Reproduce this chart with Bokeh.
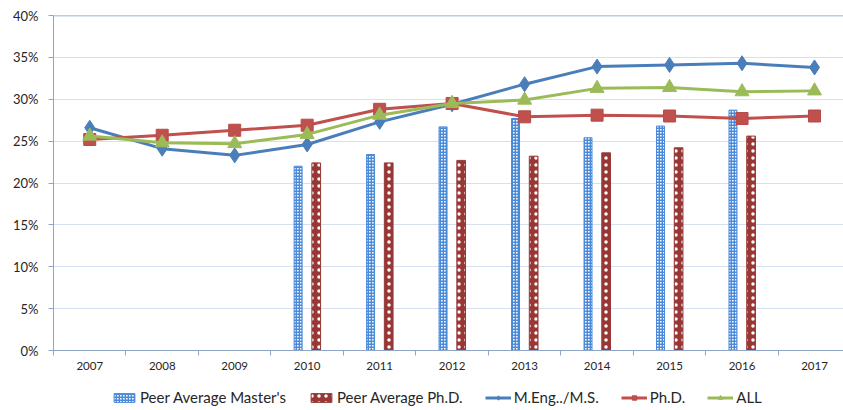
from bokeh.plotting import figure
from bokeh.layouts import column
from bokeh.models import Range1d, FixedTicker, NumeralTickFormatter, Legend, LegendItem, Span, ColumnDataSource
from bokeh.transform import dodge
from bokeh.embed import file_html
from bokeh.resources import INLINE

years = [2007, 2008, 2009, 2010, 2011, 2012, 2013, 2014, 2015, 2016, 2017]
meng_ms = [0.266, 0.241, 0.233, 0.246, 0.273, 0.294, 0.318, 0.339, 0.341, 0.343, 0.338]
phd = [0.252, 0.257, 0.263, 0.269, 0.288, 0.295, 0.279, 0.281, 0.280, 0.277, 0.280]
all_ = [0.256, 0.248, 0.247, 0.258, 0.281, 0.295, 0.299, 0.313, 0.314, 0.309, 0.310]

peer_years = [2010, 2011, 2012, 2013, 2014, 2015, 2016]
peer_masters = [0.220, 0.234, 0.267, 0.277, 0.254, 0.268, 0.287]
peer_phd = [0.224, 0.224, 0.227, 0.232, 0.236, 0.242, 0.256]

y_ticks = [0, 0.05, 0.10, 0.15, 0.20, 0.25, 0.30, 0.35, 0.40]

idx = list(range(len(years)))
peer_idx = [years.index(y) for y in peer_years]

FONT = "Lato"
AXIS_COLOR = "#8ea5c8"
TEXT_COLOR = "#262626"
BLUE = "#4a7ebb"
RED = "#c0504d"
GREEN = "#9bbb59"
BAR_BLUE = "#4a8ad8"
BAR_RED = "#983836"

p = figure(width=843, height=375, output_backend="svg", toolbar_location=None,
           x_range=Range1d(-0.5, 10.4), y_range=Range1d(0, 0.40),
           min_border_left=53, min_border_right=0, min_border_top=15, min_border_bottom=25)
p.outline_line_color = None
p.background_fill_color = "white"

# axes
p.xaxis.ticker = FixedTicker(ticks=idx, minor_ticks=[i - 0.5 for i in range(len(years) + 1)])
p.xaxis.major_label_overrides = {i: str(y) for i, y in zip(idx, years)}
p.xaxis.major_tick_line_color = None
p.xaxis.major_tick_out = 5
p.xaxis.minor_tick_out = 5
p.xaxis.minor_tick_in = 0
p.xaxis.minor_tick_line_color = AXIS_COLOR
p.xaxis.axis_line_color = AXIS_COLOR
p.xaxis.major_label_text_font = FONT
p.xaxis.major_label_text_font_size = "11.5px"
p.xaxis.major_label_text_color = TEXT_COLOR
p.xaxis.major_label_standoff = 6

p.yaxis.ticker = FixedTicker(ticks=y_ticks)
p.yaxis.formatter = NumeralTickFormatter(format="0%")
p.yaxis.major_tick_out = 5
p.yaxis.major_tick_in = 0
p.yaxis.minor_tick_line_color = None
p.yaxis.axis_line_color = AXIS_COLOR
p.yaxis.major_tick_line_color = AXIS_COLOR
p.yaxis.major_label_text_font = FONT
p.yaxis.major_label_text_font_size = "13px"
p.yaxis.major_label_text_color = TEXT_COLOR
p.yaxis.major_label_standoff = 10

p.xgrid.grid_line_color = None
p.ygrid.grid_line_color = "#d6e0ee"
p.ygrid.grid_line_width = 1

p.add_layout(Span(location=0.40, dimension="width", line_color="#6f9ad0", line_width=1.5))

bar_src = ColumnDataSource(dict(x=peer_idx, m=peer_masters, d=peer_phd))
line_src = ColumnDataSource(dict(x=idx, meng=meng_ms, phd=phd, all=all_))

bm_style = dict(fill_color="white", line_color=BAR_BLUE, line_width=1,
                hatch_pattern="+", hatch_color=BAR_BLUE, hatch_scale=3, hatch_weight=1.8)
bp_style = dict(fill_color=BAR_RED, line_color=BAR_RED, line_width=1,
                hatch_pattern="dot", hatch_color="white", hatch_scale=7, hatch_weight=2)


def draw(fig):
    rbm = fig.vbar(x=dodge("x", -0.125, range=fig.x_range), top="m", bottom=0, width=0.11,
                   source=bar_src, **bm_style)
    rbp = fig.vbar(x=dodge("x", 0.125, range=fig.x_range), top="d", bottom=0, width=0.12,
                   source=bar_src, **bp_style)
    a1 = fig.line("x", "meng", source=line_src, line_color=BLUE, line_width=3)
    b1 = fig.scatter("x", "meng", source=line_src, marker="diamond", size=15, fill_color=BLUE, line_color=BLUE)
    a2 = fig.line("x", "phd", source=line_src, line_color=RED, line_width=3)
    b2 = fig.scatter("x", "phd", source=line_src, marker="square", size=12, fill_color=RED, line_color="#b84a47")
    a3 = fig.line("x", "all", source=line_src, line_color=GREEN, line_width=3)
    b3 = fig.scatter("x", "all", source=line_src, marker="triangle", size=14, fill_color=GREEN, line_color=GREEN)
    return rbm, rbp, a1, b1, a2, b2, a3, b3


draw(p)

# legend strip below the chart (its own renderers lie outside its visible range)
lg = figure(width=843, height=35, output_backend="svg", toolbar_location=None,
            x_range=Range1d(100, 101), y_range=Range1d(100, 101), x_axis_type=None, y_axis_type=None,
            min_border=0)
lg.outline_line_color = None
r_bm, r_bp, l1, m1, l2, m2, l3, m3 = draw(lg)

legend = Legend(items=[
    LegendItem(label="Peer Average Master's", renderers=[r_bm]),
    LegendItem(label="Peer Average Ph.D.", renderers=[r_bp]),
    LegendItem(label="M.Eng../M.S.", renderers=[l1, m1]),
    LegendItem(label="Ph.D.", renderers=[l2, m2]),
    LegendItem(label="ALL", renderers=[l3, m3]),
], orientation="horizontal", location=(58, 4))
legend.label_text_font = FONT
legend.label_text_font_size = "15px"
legend.label_text_color = TEXT_COLOR
legend.glyph_width = 26
legend.glyph_height = 11
legend.label_standoff = 3
legend.spacing = 22
legend.padding = 2
legend.margin = 0
legend.border_line_color = None
legend.background_fill_alpha = 0
lg.add_layout(legend)

layout = column(p, lg, spacing=0)
open("out.html", "w").write(file_html(layout, INLINE))
